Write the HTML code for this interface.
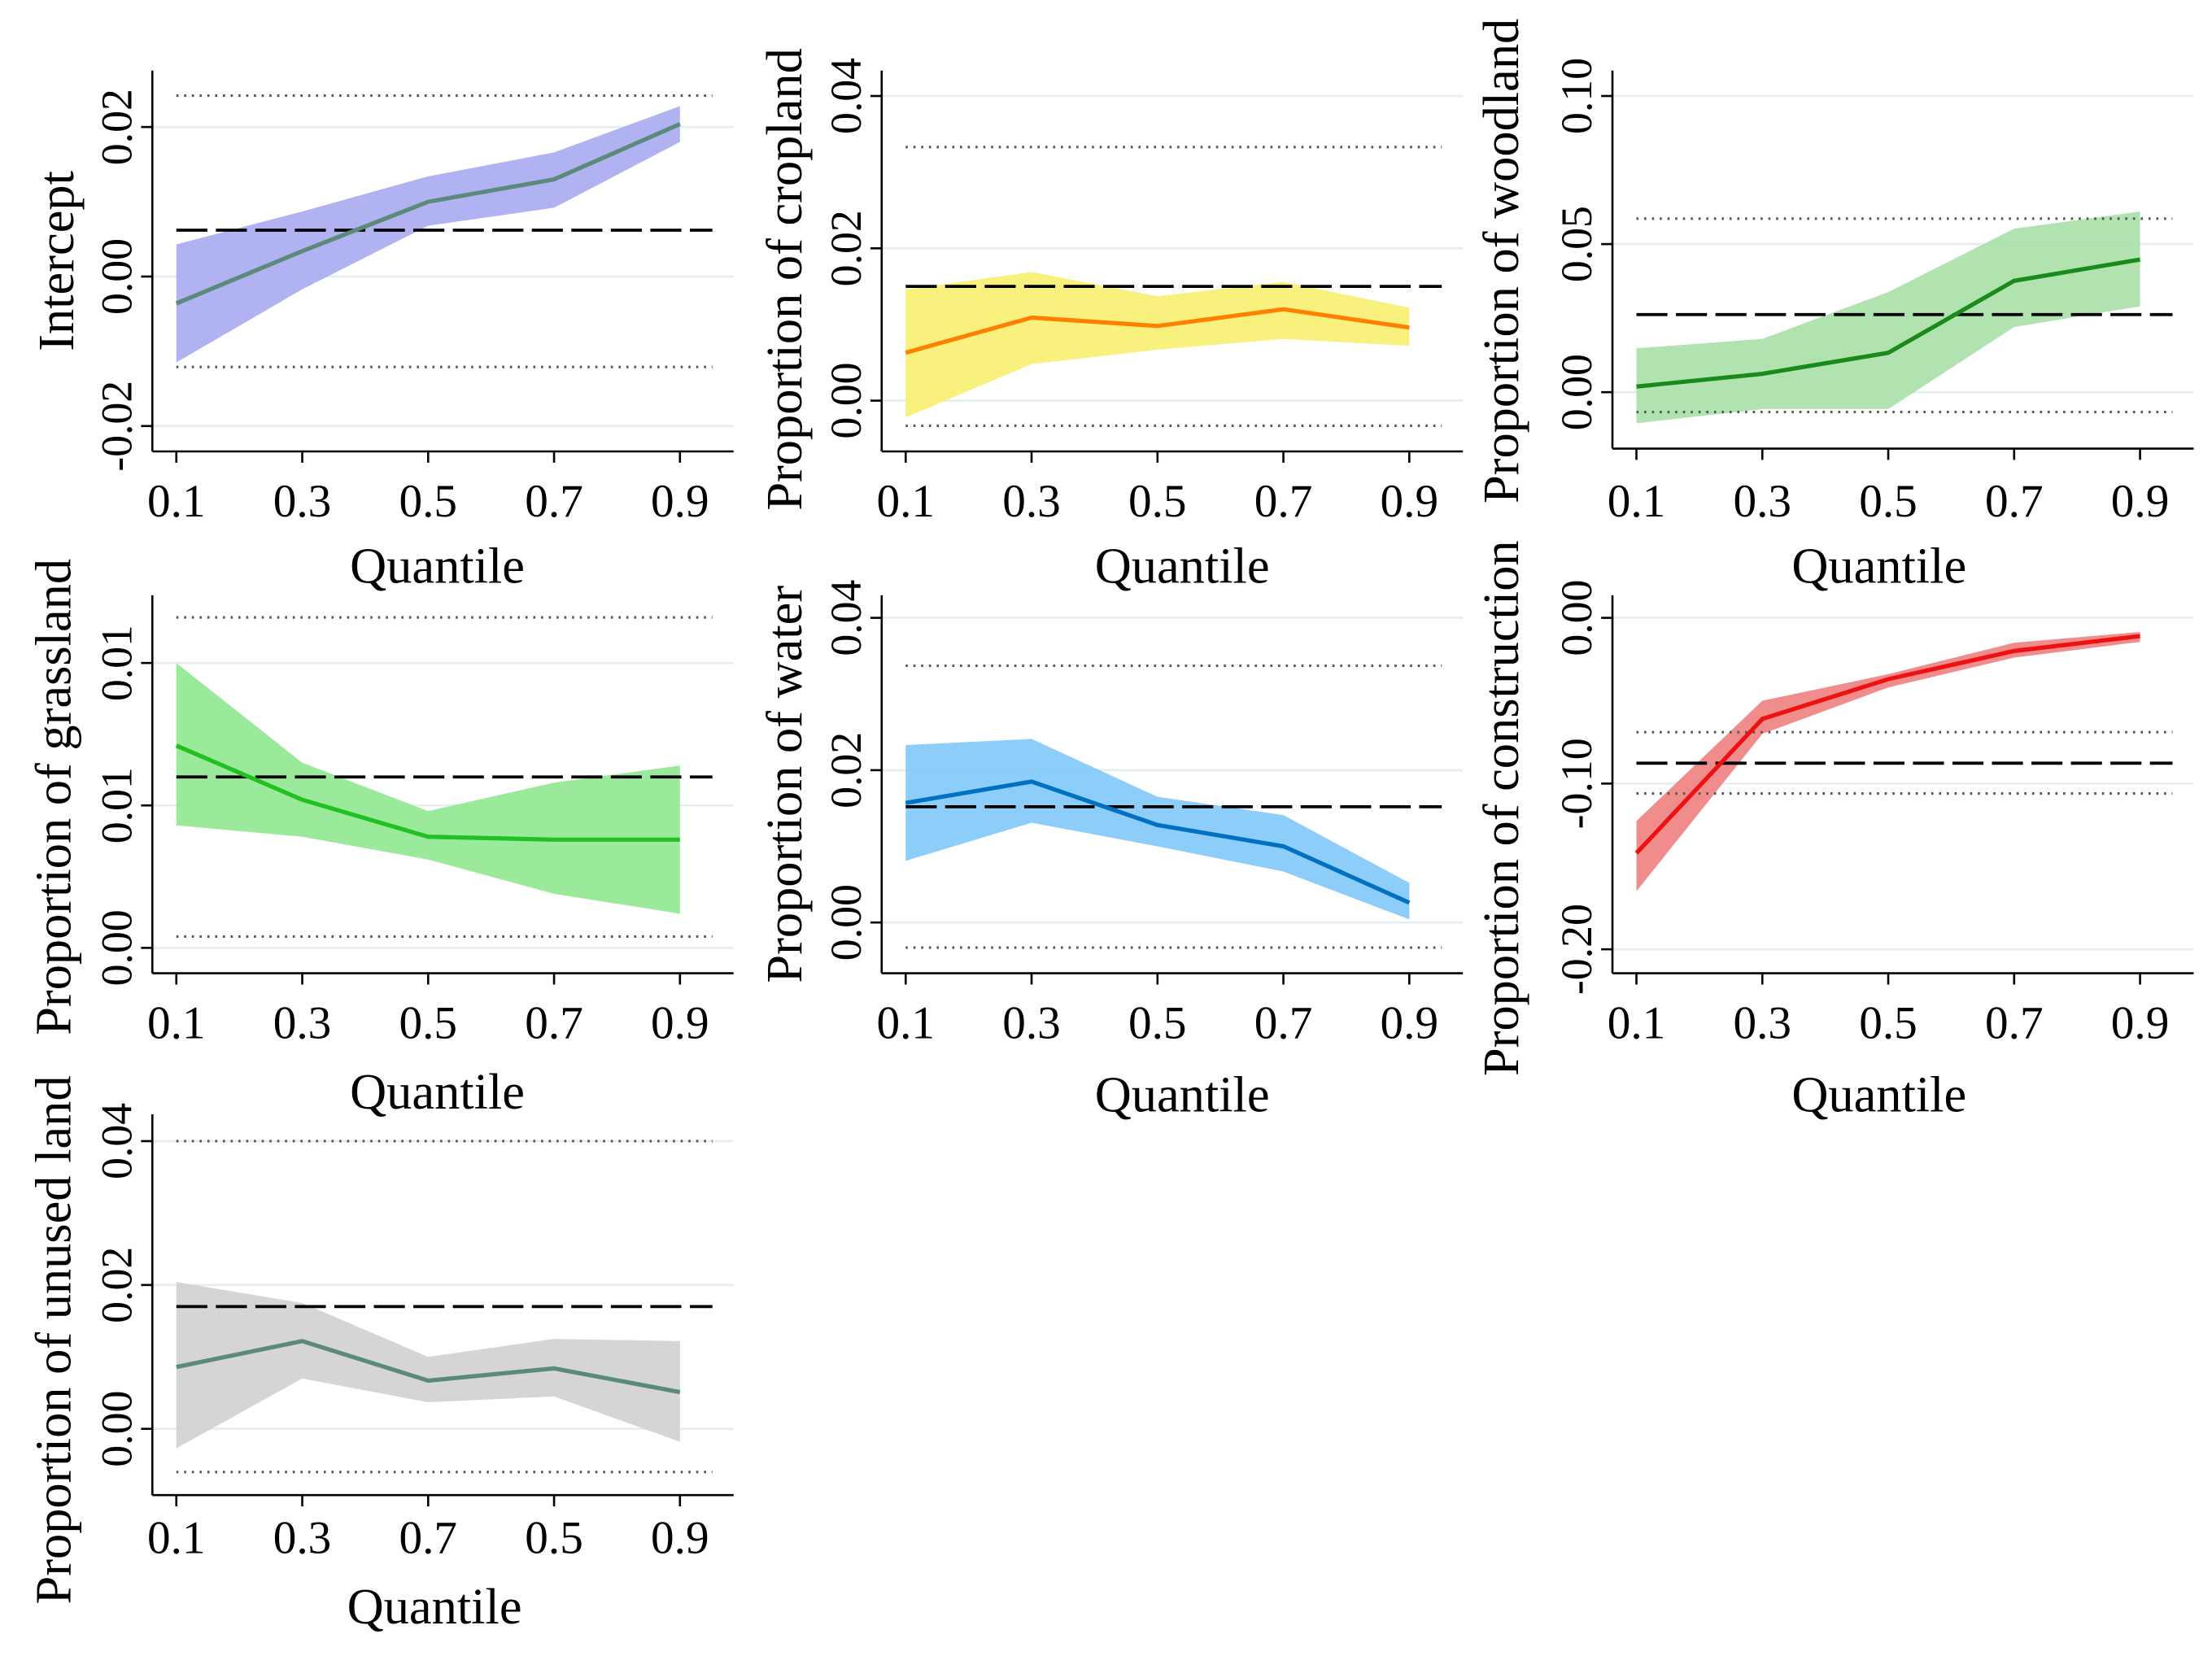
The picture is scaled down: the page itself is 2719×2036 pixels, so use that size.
<!DOCTYPE html>
<html><head><meta charset="utf-8">
<style>
html,body{margin:0;padding:0;background:#fff;}
svg{display:block;}
text{font-family:"Liberation Serif",serif;fill:#000;}
</style></head>
<body>
<svg id="chart" width="2719" height="2036" viewBox="0 0 1568 1174" xmlns="http://www.w3.org/2000/svg"></svg>
<script>
// ---- data ----
const quantiles = [0.1, 0.3, 0.5, 0.7, 0.9];
const quantileLabels7 = ["0.1", "0.3", "0.7", "0.5", "0.9"];

const interceptMid = [-0.0036, 0.0034, 0.0100, 0.0130, 0.0204];
const interceptUp  = [0.0043, 0.0087, 0.0134, 0.0166, 0.0228];
const interceptLo  = [-0.0115, -0.0017, 0.0068, 0.0092, 0.0180];
const interceptRef = [0.0062, 0.0242, -0.0121];

const croplandMid = [0.0063, 0.0109, 0.0098, 0.0120, 0.0096];
const croplandUp  = [0.0146, 0.0169, 0.0137, 0.0156, 0.0122];
const croplandLo  = [-0.0022, 0.0048, 0.0067, 0.0081, 0.0072];
const croplandRef = [0.0150, 0.0333, -0.0033];

const woodlandMid = [0.0019, 0.0062, 0.0133, 0.0376, 0.0448];
const woodlandUp  = [0.0148, 0.0180, 0.0338, 0.0552, 0.0610];
const woodlandLo  = [-0.0105, -0.0057, -0.0057, 0.0220, 0.0290];
const woodlandRef = [0.0262, 0.0586, -0.0067];

const grasslandMid = [0.0121, 0.0102, 0.0089, 0.0088, 0.0088];
const grasslandUp  = [0.0150, 0.0115, 0.0098, 0.0108, 0.0114];
const grasslandLo  = [0.0093, 0.0089, 0.0081, 0.0069, 0.0062];
const grasslandRef = [0.0110, 0.0166, 0.0054];

const waterMid = [0.0157, 0.0185, 0.0128, 0.0100, 0.0026];
const waterUp  = [0.0233, 0.0241, 0.0165, 0.0141, 0.0052];
const waterLo  = [0.0081, 0.0131, 0.0100, 0.0067, 0.0004];
const waterRef = [0.0152, 0.0337, -0.0033];

const constructionMid = [-0.142, -0.061, -0.037, -0.020, -0.011];
const constructionUp  = [-0.1226, -0.050, -0.034, -0.015, -0.0085];
const constructionLo  = [-0.165, -0.070, -0.042, -0.024, -0.0145];
const constructionRef = [-0.0877, -0.069, -0.106];

const unusedMid = [0.0086, 0.0122, 0.0067, 0.0084, 0.0051];
const unusedUp  = [0.0204, 0.0175, 0.0100, 0.0125, 0.0122];
const unusedLo  = [-0.0027, 0.0070, 0.0037, 0.0045, -0.0018];
const unusedRef = [0.0170, 0.0400, -0.0060];

// ---- layout ----
const svg = document.getElementById('chart');
const NS = 'http://www.w3.org/2000/svg';
function mk(tag, attrs, parent){
  const e = document.createElementNS(NS, tag);
  for (const k in attrs) e.setAttribute(k, attrs[k]);
  (parent||svg).appendChild(e);
  return e;
}

const panels = [
 {name:'intercept', title:'Intercept', ax:108, top:50, bot:320, mid:interceptMid, up:interceptUp, lo:interceptLo, ref:interceptRef,
  ticks:[0.02,0,-0.02], tlab:['0.02','0.00','-0.02'], y0v:0, y0p:196, ppu:53/0.01, fill:'#a9aaf0', line:'#5a8a7a', xl:355, ql:402, qx:310, ylx:40, yc:185, xlab:null},
 {name:'cropland', title:'Proportion of cropland', ax:625, top:50, bot:320, mid:croplandMid, up:croplandUp, lo:croplandLo, ref:croplandRef,
  ticks:[0.04,0.02,0], tlab:['0.04','0.02','0.00'], y0v:0, y0p:284, ppu:54/0.01, fill:'#f8f070', line:'#ff8000', xl:355, ql:402, qx:838, ylx:556, yc:198, xlab:null},
 {name:'woodland', title:'Proportion of woodland', ax:1143, top:50, bot:318, mid:woodlandMid, up:woodlandUp, lo:woodlandLo, ref:woodlandRef,
  ticks:[0.10,0.05,0], tlab:['0.10','0.05','0.00'], y0v:0, y0p:278, ppu:21/0.01, fill:'#a8e0a8', line:'#1a8a1a', xl:355, ql:402, qx:1332, ylx:1064, yc:185, xlab:null},
 {name:'grassland', title:'Proportion of grassland', ax:108, top:422, bot:690, mid:grasslandMid, up:grasslandUp, lo:grasslandLo, ref:grasslandRef,
  ticks:[0.015,0.010,0.005], tlab:['0.01','0.01','0.00'], y0v:0.005, y0p:672, ppu:101/0.005, fill:'#90e890', line:'#22c022', xl:725, ql:775, qx:310, ylx:38, yc:565, xlab:null},
 {name:'water', title:'Proportion of water', ax:625, top:422, bot:690, mid:waterMid, up:waterUp, lo:waterLo, ref:waterRef,
  ticks:[0.04,0.02,0], tlab:['0.04','0.02','0.00'], y0v:0, y0p:654, ppu:54/0.01, fill:'#80c8f8', line:'#0070c0', xl:725, ql:777, qx:838, ylx:556, yc:556, xlab:null},
 {name:'construction', title:'Proportion of construction', ax:1143, top:422, bot:690, mid:constructionMid, up:constructionUp, lo:constructionLo, ref:constructionRef,
  ticks:[0,-0.10,-0.20], tlab:['0.00','-0.10','-0.20'], y0v:0, y0p:438, ppu:117.5/0.1, fill:'#f08080', line:'#ee1111', xl:725, ql:777, qx:1332, ylx:1064, yc:573, xlab:null},
 {name:'unused-land', title:'Proportion of unused land', ax:108, top:790, bot:1060, mid:unusedMid, up:unusedUp, lo:unusedLo, ref:unusedRef,
  ticks:[0.04,0.02,0], tlab:['0.04','0.02','0.00'], y0v:0, y0p:1013, ppu:51/0.01, fill:'#d0d0d0', line:'#5a8a7a', xl:1090, ql:1140, qx:308, ylx:38, yc:950, xlab:quantileLabels7}
];

panels.forEach(p => {
  const g = mk('g', {});
  
  
  const xs = q => p.ax + 17 + (q - 0.1) / 0.8 * 357;
  const ys = v => p.y0p - (v - p.y0v) * p.ppu;
  const right = p.ax + 412;
  p.ticks.forEach(t => {
    const gl = mk('line', {x1:p.ax, x2:right, y1:ys(t), y2:ys(t), stroke:'#e4eef0', 'stroke-width':1.5}, g);
    
    
  });
  let d = quantiles.map((q,i)=>(i?'L':'M')+xs(q)+','+ys(p.up[i])).join('');
  for (let i=quantiles.length-1;i>=0;i--) d += 'L'+xs(quantiles[i])+','+ys(p.lo[i]);
  const band = mk('path', {d:d+'Z', fill:p.fill, stroke:'none', opacity:0.9}, g);
  
  
  const xr0 = xs(0.1), xr1 = xs(0.1) + 380;
  const dash = mk('line', {x1:xr0, x2:xr1, y1:ys(p.ref[0]), y2:ys(p.ref[0]), stroke:'#000', 'stroke-width':2.2, 'stroke-dasharray':'22,6'}, g);
  
  
  [1,2].forEach(k => {
    const dl = mk('line', {x1:xr0, x2:xr1, y1:ys(p.ref[k]), y2:ys(p.ref[k]), stroke:'#555', 'stroke-width':1.8, 'stroke-dasharray':'1.5,4'}, g);
    
    
  });
  const pl = mk('polyline', {points:quantiles.map((q,i)=>xs(q)+','+ys(p.mid[i])).join(' '), fill:'none', stroke:p.line, 'stroke-width':3}, g);
  
  
  const ya = mk('line', {x1:p.ax, x2:p.ax, y1:p.top, y2:p.bot, stroke:'#000', 'stroke-width':1.5}, g);
  
  
  const xa = mk('line', {x1:p.ax, x2:right, y1:p.bot, y2:p.bot, stroke:'#000', 'stroke-width':1.5}, g);
  
  
  p.ticks.forEach((t,i) => {
    const tk = mk('line', {x1:p.ax-8, x2:p.ax, y1:ys(t), y2:ys(t), stroke:'#000', 'stroke-width':1.5}, g);
    
    
    const tl = mk('text', {x:0, y:0, 'font-size':31, 'text-anchor':'middle', transform:'translate('+(p.ax-15)+','+ys(t)+') rotate(-90)'}, g);
    tl.textContent = p.tlab[i];
    
    
  });
  quantiles.forEach((q,i) => {
    const tk = mk('line', {x1:xs(q), x2:xs(q), y1:p.bot, y2:p.bot+8, stroke:'#000', 'stroke-width':1.5}, g);
    
    
    const tl = mk('text', {x:xs(q), y:p.xl+11, 'font-size':33, 'text-anchor':'middle'}, g);
    tl.textContent = p.xlab ? p.xlab[i] : String(q);
    
    
  });
  const xt = mk('text', {x:p.qx, y:p.ql+11, 'font-size':36, 'text-anchor':'middle'}, g);
  xt.textContent = 'Quantile';
  
  
  const yt = mk('text', {x:0, y:0, 'font-size':36, 'text-anchor':'middle', transform:'translate('+(p.ylx+12)+','+p.yc+') rotate(-90)'}, g);
  yt.textContent = p.title;
  
  
});
</script>
</body></html>
